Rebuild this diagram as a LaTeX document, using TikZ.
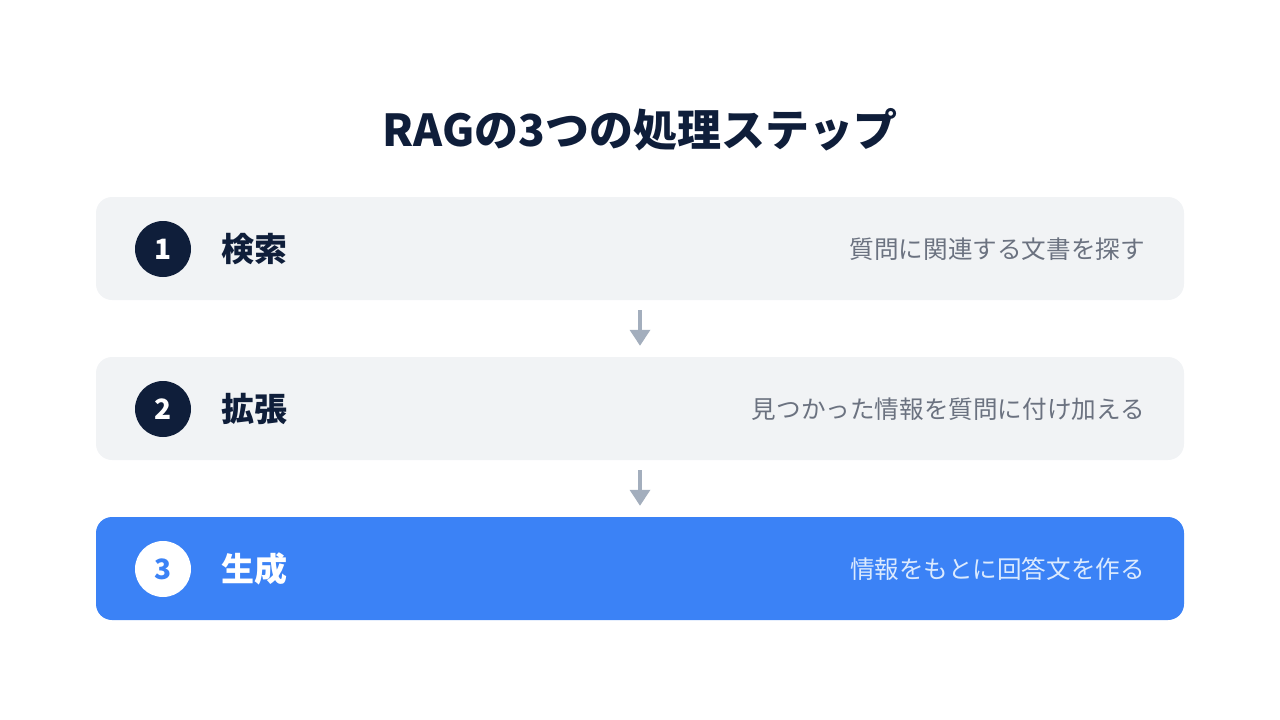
\documentclass[tikz,border=0pt]{standalone}
\usepackage{fontspec}
\setmainfont{Noto Sans CJK JP}
\usetikzlibrary{arrows.meta}
\usetikzlibrary{calc,positioning}

\definecolor{navy}{HTML}{0F1E3A}
\definecolor{boxgray}{HTML}{F1F3F5}
\definecolor{descgray}{HTML}{6B7280}
\definecolor{stepblue}{HTML}{3B82F6}
\definecolor{paleblue}{HTML}{DBEAFE}
\definecolor{arrowgray}{HTML}{A3AEBD}

\begin{document}
\begin{tikzpicture}[x=1pt, y=-1pt, >=Triangle,
    stepbox/.style={
        rounded corners=16pt,
        minimum width=1088pt,
        minimum height=103pt,
        inner sep=0pt
    },
    badge/.style={
        circle,
        minimum size=56pt,
        inner sep=0pt,
        font=\fontsize{28pt}{28pt}\selectfont\bfseries
    },
    steplabel/.style={
        anchor=west,
        inner sep=0pt,
        font=\fontsize{33pt}{33pt}\selectfont\bfseries
    },
    stepdesc/.style={
        anchor=east,
        inner sep=0pt,
        font=\fontsize{24.6pt}{24.6pt}\selectfont
    },
    flow/.style={
        ->, arrowgray, line width=3.5pt,
        shorten <=10pt, shorten >=11pt,
        arrows={-Triangle[width=20pt,length=16pt]}
    }
]

    \useasboundingbox (0,0) rectangle (1280,720);

    \node[navy, font=\fontsize{44pt}{44pt}\selectfont\bfseries] (title) at (640,130) {RAGの3つの処理ステップ};

%%% step boxes

    \node[stepbox, fill=boxgray] (box1) at (640,248.5) {};
    \node[stepbox, fill=boxgray] (box2) at (640,408.5) {};
    \node[stepbox, fill=stepblue] (box3) at (640,568.5) {};

%%% badges, labels and descriptions

    \node[badge, fill=navy, text=white] (num1) at (163,249) {1};
    \node[steplabel, navy] (label1) at (221,249) {検索};
    \node[stepdesc, descgray] (desc1) at (1145,249) {質問に関連する文書を探す};

    \node[badge, fill=navy, text=white] (num2) at (163,409) {2};
    \node[steplabel, navy] (label2) at (221,409) {拡張};
    \node[stepdesc, descgray] (desc2) at (1145,409) {見つかった情報を質問に付け加える};

    \node[badge, fill=white, text=stepblue] (num3) at (163,569) {3};
    \node[steplabel, white] (label3) at (221,569) {生成};
    \node[stepdesc, paleblue] (desc3) at (1145,569) {情報をもとに回答文を作る};

%%% arrows between steps

    \draw[flow] (box1.south) -- (box2.north);
    \draw[flow] (box2.south) -- (box3.north);

\end{tikzpicture}
\end{document}
